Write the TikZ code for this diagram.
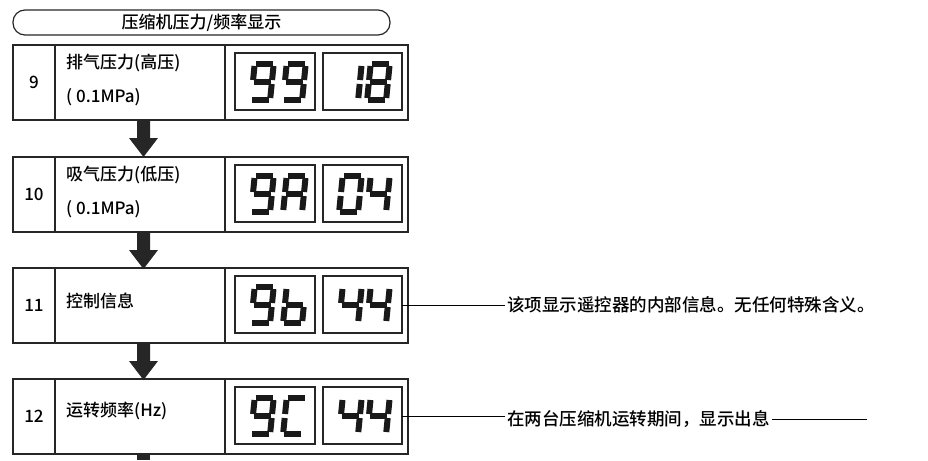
\documentclass[tikz,border=0pt]{standalone}
\usepackage{fontspec}
\setmainfont{Noto Sans CJK SC}[BoldFont={Noto Sans CJK SC Medium}]
\begin{document}
\begin{tikzpicture}[x=1pt,y=-1pt,
  frame/.style={draw=black!85,line width=1.2pt},
  lbl/.style={font=\fontsize{17}{20}\selectfont\bfseries,inner sep=0pt},
  note/.style={font=\fontsize{17.5}{20}\selectfont\bfseries,inner sep=2pt,anchor=west},
  seg/.style={line width=6pt,line cap=butt,black!90},
  bigarrow/.style={fill=black!85}]
\useasboundingbox (0,0) rectangle (928,460);
\def\sga{\draw[seg] (1,37)--(18,37);}
\def\sgb{\draw[seg] (19,35)--(19,21);}
\def\sgc{\draw[seg] (19,17)--(19,3);}
\def\sgd{\draw[seg] (1,1)--(18,1);}
\def\sge{\draw[seg] (0,17)--(0,3);}
\def\sgf{\draw[seg] (0,35)--(0,21);}
\def\sgg{\draw[seg] (1,19)--(18,19);}
\newcommand\sdig[3]{%
 \begin{scope}[shift={(#1,#2)},x=1pt,y=1pt,yshift=-38pt,xslant=0.1]
  \foreach \s in {#3}{\csname sg\s\endcsname}
 \end{scope}}
% title
\node[frame,rounded corners=12pt,minimum width=377pt,minimum height=25pt,lbl] (title) at (201.5,22.5) {压缩机压力/频率显示};
% rows
\foreach \n/\y/\num in {r1/45/9,r2/157/10,r3/268/11,r4/379/12}{
  \draw[frame] (13,\y) rectangle (408,\y+75);
  \draw[frame] (55,\y) -- (55,\y+75);
  \draw[frame] (225,\y) -- (225,\y+75);
  \node[lbl] (\n num) at (34,\y+37.5) {\num};
  \draw[frame,line width=1.4pt] (235,\y+8) rectangle (315,\y+65);
  \draw[frame,line width=1.4pt] (323,\y+8) rectangle (402,\y+65);
  \coordinate (\n d) at (402,\y+37);
}
\node[lbl,anchor=west] (t1a) at (66,63) {排气压力(高压)};
\node[lbl,anchor=west] (t1b) at (66,97) {( 0.1MPa)};
\node[lbl,anchor=west] (t2a) at (66,175) {吸气压力(低压)};
\node[lbl,anchor=west] (t2b) at (66,209) {( 0.1MPa)};
\node[lbl,anchor=west] (t3) at (66,301) {控制信息};
\node[lbl,anchor=west] (t4) at (66,411) {运转频率(Hz)};
% arrows
\foreach \y in {120,232,343}{
  \fill[bigarrow] (137,\y)--(150,\y)--(150,\y+18)--(158,\y+18)--(143.5,\y+37)--(129,\y+18)--(137,\y+18)--cycle;
}
\fill[bigarrow] (137,454) rectangle (150,460);
% digits
\sdig{251}{63}{a,b,c,d,f,g}\sdig{283}{63}{a,b,c,d,f,g}
\sdig{339}{63}{b,c}\sdig{367}{63}{a,b,c,d,e,f,g}
\sdig{251}{175}{a,b,c,d,f,g}\sdig{283}{175}{a,b,c,e,f,g}
\sdig{339}{175}{a,b,c,d,e,f}\sdig{367}{175}{b,c,f,g}
\sdig{251}{286}{a,b,c,d,f,g}\sdig{283}{286}{c,d,e,f,g}
\sdig{339}{286}{b,c,f,g}\sdig{367}{286}{b,c,f,g}
\sdig{251}{397}{a,b,c,d,f,g}\sdig{283}{397}{a,d,e,f}
\sdig{339}{397}{b,c,f,g}\sdig{367}{397}{b,c,f,g}
% notes
\node[note] (n3) at (505,305) {该项显示遥控器的内部信息。无任何特殊含义。};
\node[note] (n4) at (505,419) {在两台压缩机运转期间，显示出息};
\draw[line width=1pt] (r3d) -- (n3.west);
\draw[line width=1pt] (r4d) -- (r4d -| n4.west);
\draw[line width=1pt] (n4.east) -- ++(95,0) coordinate (n4end);
\end{tikzpicture}
\end{document}
